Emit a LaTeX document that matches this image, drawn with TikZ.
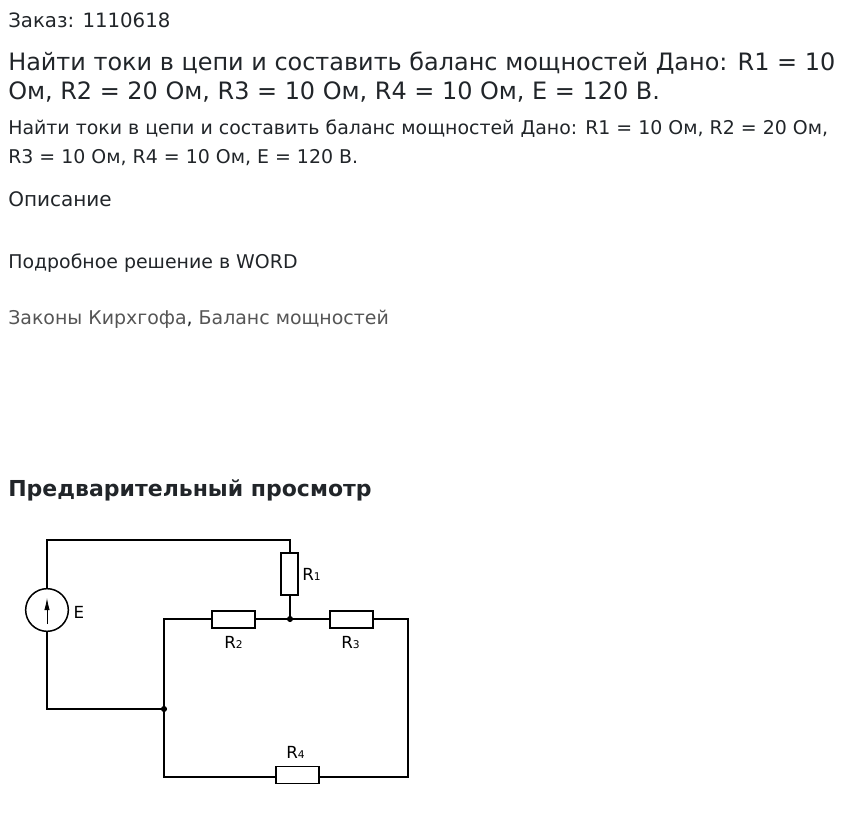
\documentclass[tikz,border=0pt]{standalone}
\usepackage{fontspec}
\setmainfont{DejaVu Sans}
\usetikzlibrary{positioning,arrows.meta}
\definecolor{bodytext}{HTML}{212529}
\definecolor{tagtext}{HTML}{555555}
\tikzset{
  line/.style={anchor=base west, inner sep=0pt, text=bodytext, font=\fontsize{14.2}{14.2}\selectfont},
  title/.style={line, font=\fontsize{17.95}{17.95}\selectfont},
  wire/.style={line width=1.5pt*0.75},
  hres/.style={draw, line width=1.5pt*0.75, minimum width=32pt, minimum height=12.5pt, inner sep=0pt, fill=white},
  vres/.style={draw, line width=1.5pt*0.75, minimum width=12.5pt, minimum height=31.5pt, inner sep=0pt, fill=white},
  junction/.style={circle, fill=black, minimum size=4.6pt, inner sep=0pt},
  lbl/.style={inner sep=0pt, font=\fontsize{12.5}{12.5}\selectfont},
}
\newcommand{\subidx}[1]{{\fontsize{8}{8}\selectfont #1}}
\begin{document}
\begin{tikzpicture}[x=0.75pt,y=-0.75pt]
\useasboundingbox (0,0) rectangle (847,820);

% Text block
\node[line, font=\fontsize{14.8}{14.8}\selectfont] (order) at (8,28) {Заказ: 1110618};
\node[title] (head1) at (8,71) {Найти токи в цепи и составить баланс мощностей Дано: R1 = 10};
\node[title] (head2) at (8,100) {Ом, R2 = 20 Ом, R3 = 10 Ом, R4 = 10 Ом, E = 120 В.};
\node[line] (body1) at (8,135) {Найти токи в цепи и составить баланс мощностей Дано: R1 = 10 Ом, R2 = 20 Ом,};
\node[line] (body2) at (8,164) {R3 = 10 Ом, R4 = 10 Ом, E = 120 В.};
\node[line, font=\fontsize{15}{15}\selectfont] (descr) at (8,207) {Описание};
\node[line] (word) at (8,269) {Подробное решение в WORD};
\node[line, text=tagtext] (tags) at (8,325) {Законы Кирхгофа\textcolor{bodytext}{,} Баланс мощностей};
\node[line, font=\fontsize{16.5}{16.5}\selectfont\bfseries] (preview) at (8,496) {Предварительный просмотр};

% Elements
\node[draw, circle, line width=1.5pt*0.75, minimum size=32pt, inner sep=0pt] (E) at (47,610) {};
\node[vres] (R1) at (289.5,574) {};
\node[hres] (R2) at (233.5,619.5) {};
\node[hres] (R3) at (351.5,619.5) {};
\node[hres] (R4) at (297.5,775) {};

% Corners and junctions
\coordinate (topl) at (47,540);
\coordinate (topr) at (290,540);
\coordinate (midl) at (164,619);
\coordinate (midr) at (408,619);
\coordinate (botl) at (164,777);
\coordinate (botr) at (408,777);
\coordinate (srcb) at (47,709);
\node[junction] (J1) at (290,619) {};
\node[junction] (J2) at (164,709) {};

% Wires
\draw[wire] (E.north) -- (topl) -- (topr) -- (topr |- R1.north);
\draw[wire] (R1.south -| J1) -- (J1);
\draw[wire] (E.south) -- (srcb) -- (J2);
\draw[wire] (R2.west |- midl) -- (midl) -- (J2) -- (botl) -- (R4.west |- botl);
\draw[wire] (R2.east |- J1) -- (J1) -- (R3.west |- J1);
\draw[wire] (R3.east |- midr) -- (midr) -- (botr) -- (R4.east |- botr);

% Source arrow
\coordinate (arrb) at (47,624);
\coordinate (arrt) at (47,598);
\draw[line width=0.6pt, -{Latex[length=9pt,width=4pt]}] (arrb) -- (arrt);

% Labels
\node[lbl] (lE) at (79,612) {E};
\node[lbl] (l1) at (311.5,574) {R\subidx{1}};
\node[lbl] (l2) at (233.5,642) {R\subidx{2}};
\node[lbl] (l3) at (350.5,642) {R\subidx{3}};
\node[lbl] (l4) at (295.5,752) {R\subidx{4}};
\end{tikzpicture}
\end{document}
